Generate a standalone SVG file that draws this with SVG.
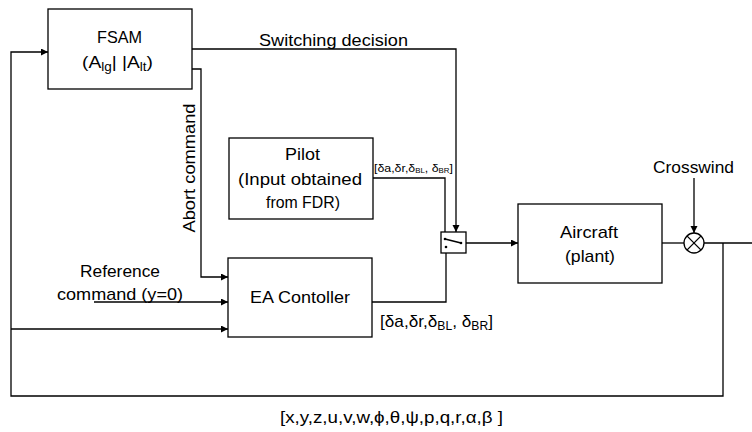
<svg xmlns="http://www.w3.org/2000/svg" width="752" height="432" viewBox="0 0 752 432">
<defs>
<marker id="ah" markerWidth="8" markerHeight="8" refX="7" refY="3.5" orient="auto" markerUnits="userSpaceOnUse">
<path d="M0,0 L7,3.5 L0,7 Z" fill="#000"/>
</marker>
<style>
.box{fill:#fff;stroke:#000;stroke-width:1.3}
.ln{fill:none;stroke:#000;stroke-width:1.3}
.t{font-family:"Liberation Sans",Arial,sans-serif;font-size:17px;fill:#000}
.s{font-family:"Liberation Sans",Arial,sans-serif;font-size:11px;fill:#000}
</style>
</defs>
<rect width="752" height="432" fill="#fff"/>

<g id="connectors">
<polyline class="ln" points="723,243 723,396 11,396 11,52 48,52" marker-end="url(#ah)"/>
<polyline class="ln" points="11,329 228,329" marker-end="url(#ah)"/>
<polyline class="ln" points="94,302 228,302" marker-end="url(#ah)"/>
<polyline class="ln" points="192,69 201,69 201,277 228,277" marker-end="url(#ah)"/>
<polyline class="ln" points="192,49 456,49 456,232" marker-end="url(#ah)"/>
<polyline class="ln" points="373,178 445,178 445,239"/>
<polyline class="ln" points="372,302 446,302 446,247"/>
<polyline class="ln" points="461,243 518,243" marker-end="url(#ah)"/>
<polyline class="ln" points="662,243 684,243"/>
<polyline class="ln" points="704,243 752,243"/>
<polyline class="ln" points="694,178 694,233" marker-end="url(#ah)"/>
</g>

<g id="fsam">
<rect class="box" x="48" y="9" width="144" height="80"/>
<text class="t" x="97" y="43" textLength="45" lengthAdjust="spacingAndGlyphs">FSAM</text>
<text class="t" x="82" y="68" textLength="71" lengthAdjust="spacingAndGlyphs">(A<tspan font-size="12" dy="3">lg</tspan><tspan dy="-3">| |A</tspan><tspan font-size="12" dy="3">lt</tspan><tspan dy="-3">)</tspan></text>
</g>

<g id="pilot">
<rect class="box" x="229" y="138" width="144" height="81"/>
<text class="t" x="285" y="160" textLength="35" lengthAdjust="spacingAndGlyphs">Pilot</text>
<text class="t" x="238" y="185" textLength="124" lengthAdjust="spacingAndGlyphs">(Input obtained</text>
<text class="t" x="266" y="208" textLength="74" lengthAdjust="spacingAndGlyphs">from FDR)</text>
</g>

<g id="ea-controller">
<rect class="box" x="228" y="258" width="144" height="79"/>
<text class="t" x="250" y="303" textLength="100" lengthAdjust="spacingAndGlyphs">EA Contoller</text>
</g>

<g id="switch">
<rect class="box" x="441" y="232" width="25" height="21"/>
<line class="ln" x1="445" y1="239" x2="461" y2="243" stroke-width="1"/>
<circle cx="445" cy="239" r="1.3" fill="#000"/>
<circle cx="461" cy="243" r="1.3" fill="#000"/>
<circle cx="446" cy="247" r="1.3" fill="#000"/>
</g>

<g id="aircraft">
<rect class="box" x="518" y="204" width="144" height="79"/>
<text class="t" x="560" y="238" textLength="58" lengthAdjust="spacingAndGlyphs">Aircraft</text>
<text class="t" x="565" y="262" textLength="50" lengthAdjust="spacingAndGlyphs">(plant)</text>
</g>

<g id="sum">
<circle class="box" cx="694" cy="243" r="10"/>
<line class="ln" x1="686.9" y1="235.9" x2="701.1" y2="250.1"/>
<line class="ln" x1="701.1" y1="235.9" x2="686.9" y2="250.1"/>
</g>

<g id="labels">
<text class="t" x="259" y="46" textLength="149" lengthAdjust="spacingAndGlyphs">Switching decision</text>
<text class="t" x="195" y="168" text-anchor="middle" transform="rotate(-90 195 168)" textLength="129" lengthAdjust="spacingAndGlyphs">Abort command</text>
<text class="s" x="374" y="172" textLength="79" lengthAdjust="spacingAndGlyphs">[δa,δr,δ<tspan font-size="7" dy="1">BL</tspan><tspan dy="-1">, δ</tspan><tspan font-size="7" dy="1">BR</tspan><tspan dy="-1">]</tspan></text>
<text class="t" x="80" y="277" textLength="80" lengthAdjust="spacingAndGlyphs">Reference</text>
<text class="t" x="57" y="300" textLength="126" lengthAdjust="spacingAndGlyphs">command (y=0)</text>
<text class="t" x="380" y="327" textLength="113" lengthAdjust="spacingAndGlyphs">[δa,δr,δ<tspan font-size="12" dy="3">BL</tspan><tspan dy="-3">, δ</tspan><tspan font-size="12" dy="3">BR</tspan><tspan dy="-3">]</tspan></text>
<text class="t" x="653" y="173" textLength="81" lengthAdjust="spacingAndGlyphs">Crosswind</text>
<text class="t" x="280" y="423" textLength="223" lengthAdjust="spacingAndGlyphs">[x,y,z,u,v,w,ϕ,θ,ψ,p,q,r,α,β ]</text>
</g>
</svg>
